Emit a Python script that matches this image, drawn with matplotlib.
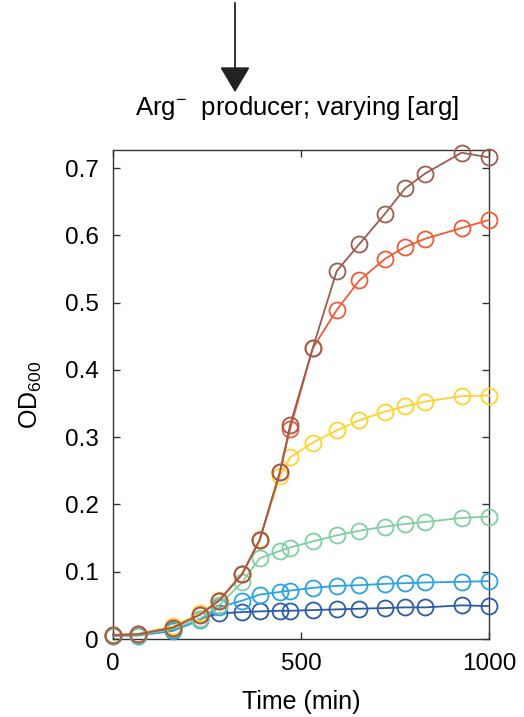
import matplotlib

matplotlib.use("Agg")
import matplotlib.pyplot as plt
from matplotlib.patches import FancyArrowPatch

plt.rcParams["font.family"] = ["Liberation Sans", "DejaVu Sans"]
plt.rcParams["mathtext.fontset"] = "custom"
plt.rcParams["mathtext.rm"] = "Liberation Sans"
plt.rcParams["mathtext.it"] = "Liberation Sans:italic"

# Sampling times (min)
time_min = [0, 67, 160, 231, 282, 343, 390, 444, 471, 531, 595, 655, 723, 777, 830, 927, 1000]

# OD600 per arginine level (lowest to highest)
od_dark_blue = [0.005, 0.006, 0.014, 0.030, 0.038, 0.040, 0.041, 0.042, 0.042,
                0.043, 0.044, 0.045, 0.046, 0.047, 0.047, 0.050, 0.049]
od_light_blue = [0.005, 0.005, 0.012, 0.028, 0.047, 0.057, 0.066, 0.070, 0.072,
                 0.076, 0.079, 0.080, 0.082, 0.083, 0.084, 0.085, 0.086]
od_green = [0.005, 0.006, 0.015, 0.030, 0.050, 0.084, 0.120, 0.131, 0.136,
            0.145, 0.154, 0.161, 0.167, 0.171, 0.174, 0.180, 0.182]
od_yellow = [0.006, 0.008, 0.019, 0.038, 0.058, 0.097, 0.148, 0.242, 0.270,
             0.292, 0.310, 0.325, 0.338, 0.346, 0.353, 0.361, 0.362]
od_red = [0.006, 0.007, 0.017, 0.036, 0.057, 0.096, 0.147, 0.249, 0.312,
          0.432, 0.489, 0.533, 0.565, 0.583, 0.595, 0.611, 0.623]
od_brown = [0.006, 0.007, 0.017, 0.036, 0.057, 0.096, 0.147, 0.248, 0.318,
            0.432, 0.547, 0.587, 0.632, 0.670, 0.692, 0.723, 0.716]

series = [
    (od_dark_blue, "#2c5ba6"),
    (od_light_blue, "#2ba2e0"),
    (od_green, "#80cfa0"),
    (od_yellow, "#ffd22e"),
    (od_red, "#f25a35"),
    (od_brown, "#9c5c4e"),
]

fig = plt.figure(figsize=(5.24, 7.17), dpi=100)
ax = fig.add_axes([113 / 524, 1 - 639 / 717, 376 / 524, 489 / 717])

for values, color in series:
    ax.plot(time_min, values, color=color, linewidth=1.3, marker="o",
            markersize=11.5, markerfacecolor="none", markeredgewidth=1.3,
            clip_on=False, zorder=3)

ax.set_xlim(0, 1000)
ax.set_ylim(0, 0.727)
ax.set_xticks([0, 500, 1000])
ax.set_yticks([0, 0.1, 0.2, 0.3, 0.4, 0.5, 0.6, 0.7])
ax.set_yticklabels(["0", "0.1", "0.2", "0.3", "0.4", "0.5", "0.6", "0.7"])
ax.tick_params(direction="in", top=True, right=True, length=5, width=1,
               color="#333333", labelsize=17.5, pad=10)
for spine in ax.spines.values():
    spine.set_color("#333333")
    spine.set_linewidth(1.0)

ax.set_xlabel("Time (min)", fontsize=18, labelpad=11)
ax.set_ylabel("OD$_{600}$", fontsize=18, labelpad=15)

fig.text(297 / 524, 1 - 115 / 717, "Arg$^{-}$  producer; varying [arg]",
         ha="center", va="baseline", fontsize=18.5)

arrow = FancyArrowPatch((235 / 524, 1.0), (235 / 524, 1 - 95 / 717),
                        transform=fig.transFigure,
                        arrowstyle="-|>,head_length=1.6,head_width=0.95",
                        mutation_scale=10, color="#222222", linewidth=1.3)
fig.patches.append(arrow)

fig.savefig("out.png", dpi=100)
